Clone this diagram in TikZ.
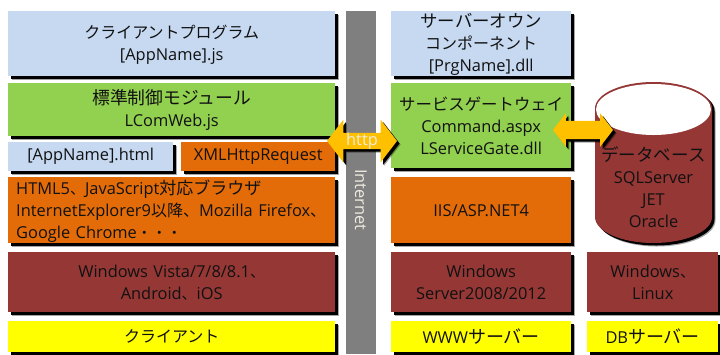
\documentclass[tikz,border=0pt]{standalone}
\usepackage{fontspec}
\setmainfont{Open Sans}
\newfontfamily\cjkf{Noto Sans CJK JP}
\usetikzlibrary{shapes.geometric,shapes.arrows,shadows}
\definecolor{cblue}{HTML}{C6D9F1}
\definecolor{cgreen}{HTML}{92D050}
\definecolor{corange}{HTML}{E36C09}
\definecolor{cred}{HTML}{953735}
\definecolor{cyellow}{HTML}{FFFF00}
\definecolor{cgray}{HTML}{7F7F7F}
\definecolor{carrow}{HTML}{FFC000}
\definecolor{ctext}{HTML}{111111}
\definecolor{clabel}{HTML}{EFEBE0}
\newcommand\Jz[2]{{\fontsize{#1}{22}\selectfont\cjkf #2}}
\newcommand\Nudge[1]{\rule{0pt}{#1}}
\tikzset{
  softshadow/.style={general shadow={shadow xshift=3.5pt,shadow yshift=-3.5pt,fill=black,opacity=.35},
                     general shadow={shadow xshift=2.5pt,shadow yshift=-2.5pt,fill=black}},
  box/.style={rectangle,anchor=north west,inner sep=0pt,align=center,softshadow,text=ctext,
              font=\fontsize{16.4}{22}\selectfont},
  wbox/.style={box,minimum width=327pt,text width=327pt},
  sbox/.style={box,minimum width=180pt,text width=180pt},
  dbox/.style={box,minimum width=131pt,text width=131pt},
  blockarrow/.style={double arrow,fill=carrow,inner xsep=0pt,softshadow,anchor=center},
}
\begin{document}
\begin{tikzpicture}[x=1pt,y=-1pt]
\useasboundingbox (0,0) rectangle (720,354);
% Internet band
\node[rectangle,fill=cgray,inner sep=0pt,minimum width=30pt,minimum height=343pt,anchor=north west] (net) at (346,11) {};
\node[rotate=-90,text=clabel,font=\fontsize{16.4}{16}\selectfont] (nettext) at (361,200) {Internet};
% client column
\node[wbox,fill=cblue,minimum height=65pt] (prog) at (8,11) {\Nudge{16pt}\Jz{16}{クライアントプログラム}\\{}[AppName].js};
\node[wbox,fill=cgreen,minimum height=53pt] (lcom) at (8,83) {\Jz{17.8}{標準制御モジュール}\\LComWeb.js};
\node[box,fill=cblue,minimum width=165pt,text width=165pt,minimum height=29pt] (html) at (8,142) {[AppName].html};
\node[box,fill=corange,minimum width=154pt,text width=154pt,minimum height=29pt] (xhr) at (181,142) {XMLHttpRequest};
\node[wbox,fill=corange,minimum height=66pt,align=left,text width=311pt,inner xsep=8pt] (brow) at (8,177)
  {\Nudge{17pt}HTML5\Jz{15}{、}JavaScript\Jz{17}{対応ブラウザ}\\InternetExplorer9\Jz{16}{以降、}Mozilla Firefox\Jz{16}{、}\\Google Chrome\Jz{15}{・・・}};
\node[wbox,fill=cred,minimum height=60pt] (os) at (8,252) {Windows Vista/7/8/8.1\Jz{15}{、}\\Android\Jz{15}{、}iOS};
\node[wbox,fill=cyellow,minimum height=31pt] (cli) at (8,321) {\Jz{16}{クライアント}};
% server column
\node[sbox,fill=cblue,minimum height=65pt] (own) at (391,11) {\Nudge{16pt}\Jz{17.4}{サーバーオウン}\\\Jz{16}{コンポーネント}\\{}[PrgName].dll};
\node[sbox,fill=cgreen,minimum height=85pt] (gate) at (391,83) {\Jz{16.4}{サービスゲートウェイ}\\Command.aspx\\LServiceGate.dll};
\node[sbox,fill=corange,minimum height=66pt] (iis) at (391,177) {IIS/ASP.NET4};
\node[sbox,fill=cred,minimum height=60pt] (wos) at (391,252) {Windows\\Server2008/2012};
\node[sbox,fill=cyellow,minimum height=31pt] (www) at (391,321) {WWW\Jz{18}{サーバー}};
% db column
\node[dbox,fill=cred,minimum height=60pt] (dos) at (587,252) {Windows\Jz{15}{、}\\Linux};
\node[dbox,fill=cyellow,minimum height=31pt] (dbs) at (587,321) {DB\Jz{18}{サーバー}};
% cylinder
\path[fill=cred,softshadow] (595,108.5) -- (595,217)
   arc[start angle=180,end angle=360,x radius=58.5pt,y radius=26pt] -- (712,108.5)
   arc[start angle=0,end angle=180,x radius=58.5pt,y radius=26.5pt] -- cycle;
\fill[white] (653.5,109.5) ellipse[x radius=57.5pt,y radius=25.5pt];
\node[align=center,text=ctext,inner sep=0pt,font=\fontsize{16.4}{22}\selectfont] (dbt) at (653.5,187.5)
  {\Jz{17.5}{データベース}\\SQLServer\\JET\\Oracle};
% arrows
\node[blockarrow,inner ysep=8pt,minimum height=70pt,double arrow head extend=13pt,double arrow tip angle=105] (http) at (362,141) {};
\node[text=clabel,font=\fontsize{16.4}{16}\selectfont] (httpt) at (362,141) {http};
\node[blockarrow,inner ysep=9pt,minimum height=60pt,double arrow head extend=7.5pt,double arrow tip angle=105] (dbarrow) at (583,130) {};
\end{tikzpicture}
\end{document}
